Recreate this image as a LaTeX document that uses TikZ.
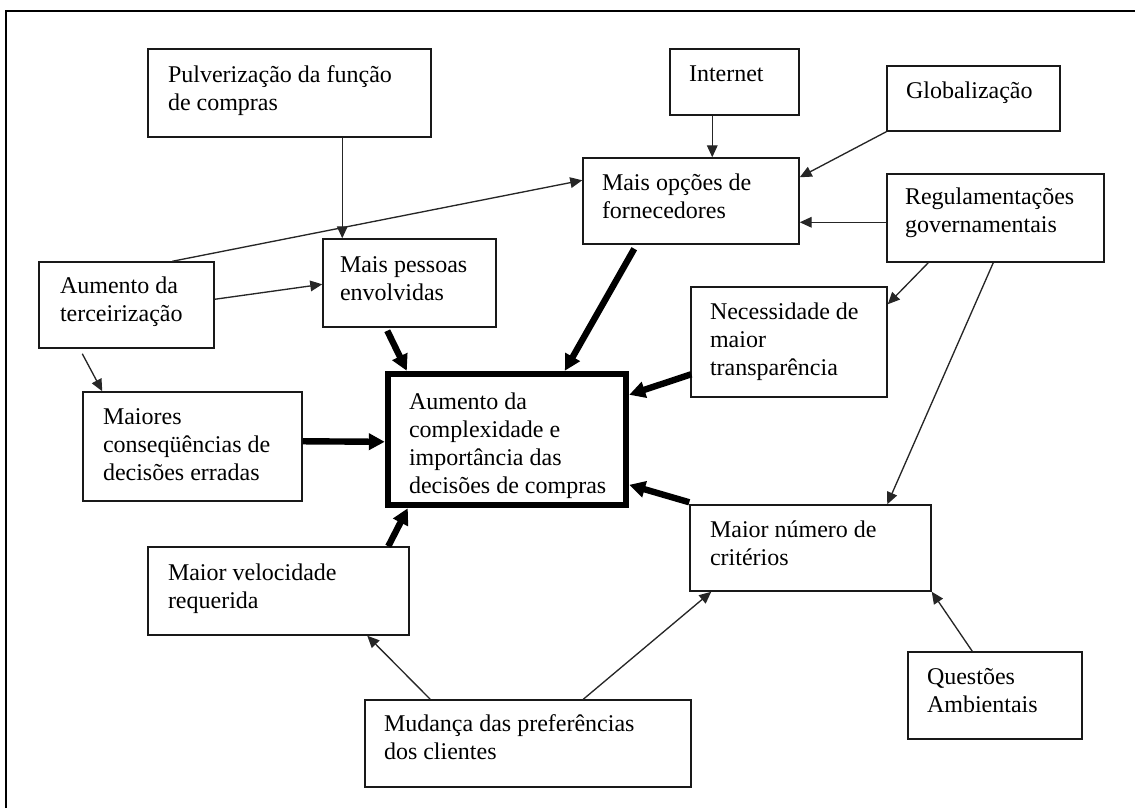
\documentclass[tikz,border=0pt]{standalone}
\usepackage{fontspec}
\setmainfont{Liberation Serif}
\usetikzlibrary{arrows.meta,fit,calc}
\newcommand\fl{\rule{0pt}{14pt}}
\begin{document}
\begin{tikzpicture}[x=0.75pt,y=-0.75pt,
 box/.style={draw=black!90, line width=1.1pt, inner sep=0pt, rectangle},
 mainbox/.style={draw=black, line width=4.8pt, inner sep=0pt, rectangle},
 txt/.style={anchor=north west, inner sep=0pt, outer sep=0pt, align=left, yshift=14pt, font=\fontsize{18pt}{21pt}\selectfont},
 thinarrow/.style={draw=black!85, line width=1pt, -{Triangle[length=9pt,width=8pt]}},
 thickarrow/.style={draw=black, line width=4.8pt, -{Triangle[length=12pt,width=12pt]}},
 frame/.style={draw=black, line width=1.5pt}]
\useasboundingbox (0,0) rectangle (1135,808);
\draw[frame] (6,808) -- (6,11) -- (1135,11);

% boxes
\node[box, fit={(148,49) (431,137)}] (pulv) {};
\node[txt] (pulvt) at (168,82) {\fl Pulverização da função\\de compras};
\node[box, fit={(670,49) (799,115)}] (inet) {};
\node[txt] (inett) at (689,81) {\fl Internet};
\node[box, fit={(887,66) (1060,131)}] (glob) {};
\node[txt] (globt) at (906,98) {\fl Globalização};
\node[box, fit={(583,158) (799,244)}] (opc) {};
\node[txt] (opct) at (602,190) {\fl Mais opções de\\fornecedores};
\node[box, fit={(887,174) (1104,262)}] (reg) {};
\node[txt] (regt) at (905,204) {\fl Regulamentações\\governamentais};
\node[box, fit={(39,262) (214,348)}] (terc) {};
\node[txt] (terct) at (60,293) {\fl Aumento da\\terceirização};
\node[box, fit={(323,239) (496,327)}] (pess) {};
\node[txt] (pesst) at (340,272) {\fl Mais pessoas\\envolvidas};
\node[box, fit={(691,287) (887,397)}] (nec) {};
\node[txt] (nect) at (710,319) {\fl Necessidade de\\maior\\transparência};
\node[box, fit={(83,392) (302,501)}] (cons) {};
\node[txt] (const) at (103,424) {\fl Maiores\\conseqüências de\\decisões erradas};
\node[mainbox, fit={(388,374) (626,505)}] (cent) {};
\node[txt] (centt) at (409,409) {\fl Aumento da\\complexidade e\\importância das\\decisões de compras};
\node[box, fit={(690,505) (931,591)}] (crit) {};
\node[txt] (critt) at (710,537) {\fl Maior número de\\critérios};
\node[box, fit={(148,547) (409,635)}] (vel) {};
\node[txt] (velt) at (168,580) {\fl Maior velocidade\\requerida};
\node[box, fit={(365,700) (691,787)}] (mud) {};
\node[txt] (mudt) at (384,731) {\fl Mudança das preferências\\dos clientes};
\node[box, fit={(908,652) (1082,739)}] (quest) {};
\node[txt] (questt) at (927,684) {\fl Questões\\Ambientais};

% thin arrows
\draw[thinarrow] ($(pulv.south west)+(195,0)$) -- ($(pess.north west)+(20,0)$);
\draw[thinarrow] ($(inet.south west)+(43,0)$) -- ($(opc.north west)+(130,0)$);
\draw[thinarrow] (glob.south west) -- ($(opc.north east)+(0,20)$);
\draw[thinarrow] ($(reg.north west)+(0,49)$) -- ($(opc.north east)+(0,65)$);
\draw[thinarrow] ($(reg.south west)+(42,0)$) -- ($(nec.north east)+(0,18)$);
\draw[thinarrow] ($(reg.south west)+(107,0)$) -- ($(crit.north west)+(198,0)$);
\draw[thinarrow] ($(terc.north west)+(134,0)$) -- ($(opc.north west)+(0,23)$);
\draw[thinarrow] ($(terc.north east)+(0,38)$) -- ($(pess.north west)+(0,46)$);
\draw[thinarrow] ($(terc.south west)+(44,5)$) -- ($(cons.north west)+(20,0)$);
\draw[thinarrow] ($(mud.north west)+(66,0)$) -- ($(vel.south west)+(220,0)$);
\draw[thinarrow] ($(mud.north west)+(219,0)$) -- ($(crit.south west)+(22,0)$);
\draw[thinarrow] ($(quest.north west)+(65,0)$) -- (crit.south east);

% thick arrows
\draw[thickarrow] ($(pess.south west)+(65,3)$) -- ($(cent.north west)+(22,0)$);
\draw[thickarrow] ($(opc.south west)+(52,4)$) -- ($(cent.north west)+(180,0)$);
\draw[thickarrow] ($(nec.north west)+(1,88)$) -- ($(cent.north east)+(0,24)$);
\draw[thickarrow] ($(cons.north east)+(0,50)$) -- ($(cent.north west)+(0,71)$);
\draw[thickarrow] ($(crit.north west)+(0,-2)$) -- ($(cent.north east)+(0,114)$);
\draw[thickarrow] ($(vel.north west)+(241,0)$) -- ($(cent.south west)+(23,0)$);
\end{tikzpicture}
\end{document}
